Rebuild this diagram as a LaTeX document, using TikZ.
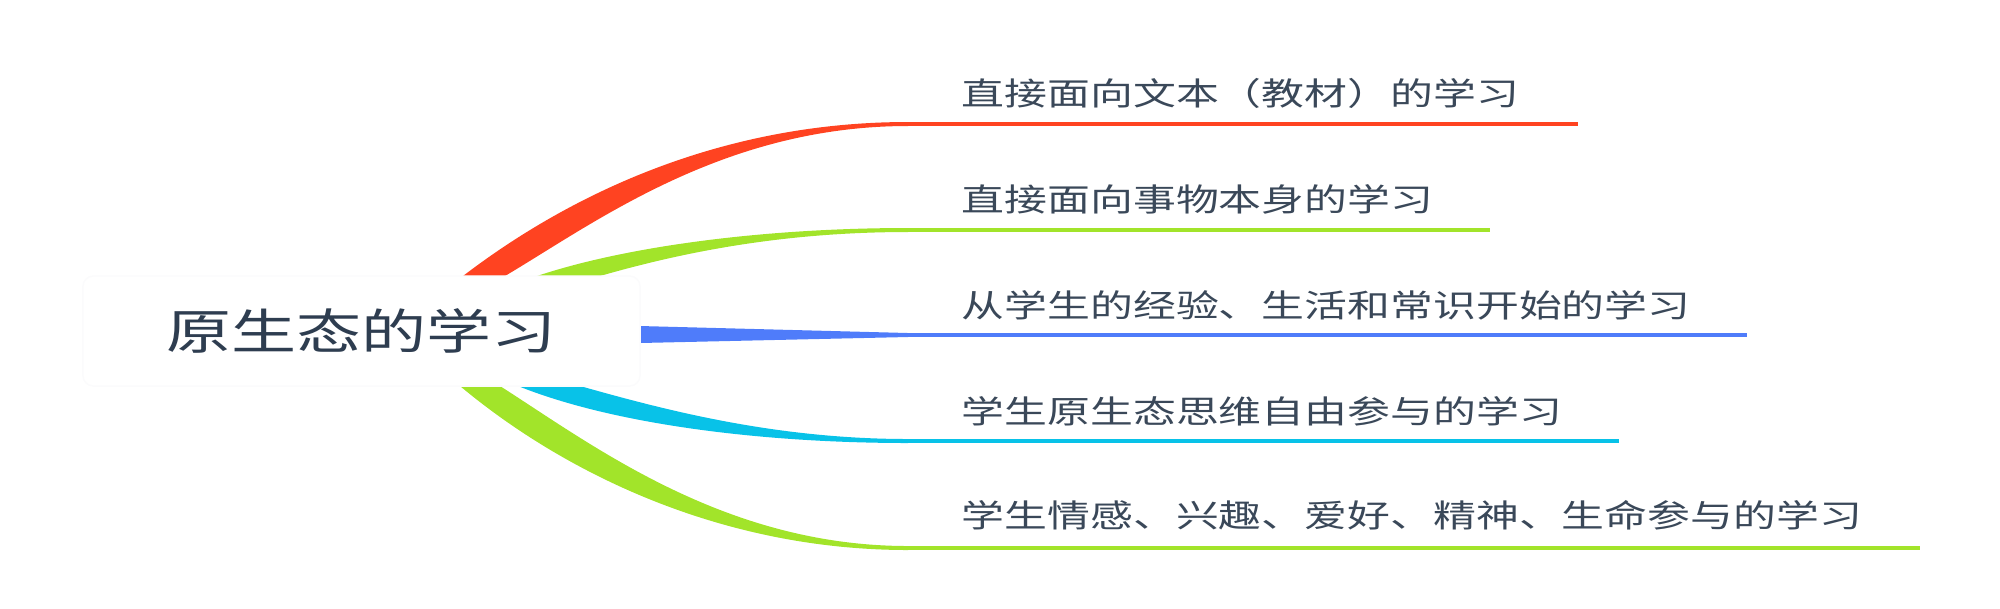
\documentclass[tikz,border=0pt]{standalone}
\usepackage{fontspec}
\newfontfamily\cjk[FakeStretch=1.35]{Noto Sans CJK SC}
\definecolor{tred}{HTML}{FF4321}
\definecolor{tgreen}{HTML}{A2E42A}
\definecolor{tblue}{HTML}{4F7CFA}
\definecolor{tcyan}{HTML}{08C2E8}
\definecolor{rootink}{HTML}{2E3D50}
\definecolor{leafink}{HTML}{3A4859}
\definecolor{boxgray}{HTML}{FBFBFC}

\begin{document}
\begin{tikzpicture}[
    x=0.01cm, y=-0.01cm,
    root/.style={draw=boxgray, fill=white, rounded corners=3pt, minimum width=5.57cm, minimum height=1.1cm, inner sep=0pt,
        font=\cjk\fontsize{13.7}{14}\selectfont, text=rootink},
    leaf/.style={anchor=west, inner sep=0pt, font=\cjk\fontsize{9.03}{10}\selectfont, text=leafink},
    uline/.style={line width=1pt}
]
\useasboundingbox (0,0) rectangle (2000,608);

% joints where the branches turn into underlines
\coordinate (j1) at (908,124);
\coordinate (j2) at (908,230);
\coordinate (j3) at (908,335);
\coordinate (j4) at (908,441);
\coordinate (j5) at (908,548);

% tapered branches
\fill[tred] (463,276) .. controls (565,198) and (716,122) .. (908,122)
    -- (908,126) .. controls (724,126) and (596,222) .. (505,276) -- cycle;
\fill[tgreen] (537,276) .. controls (630,245) and (770,228) .. (908,228)
    -- (908,232) .. controls (790,232) and (690,250) .. (600,276) -- cycle;
\fill[tblue] (640,326) -- (908,333) -- (908,337) -- (640,343) -- cycle;
\fill[tcyan] (518,386) .. controls (615,425) and (765,443) .. (908,443)
    -- (908,439) .. controls (775,439) and (665,410) .. (580,386) -- cycle;
\fill[tgreen] (460,386) .. controls (558,468) and (715,550) .. (908,550)
    -- (908,546) .. controls (725,546) and (594,446) .. (500,386) -- cycle;

\node[root] (core) at (361.5,331) {原生态的学习};

% underlines
\draw[uline, tred] (j1) -- (1578,124) coordinate (e1);
\draw[uline, tgreen] (j2) -- (1490,230) coordinate (e2);
\draw[uline, tblue] (j3) -- (1747,335) coordinate (e3);
\draw[uline, tcyan] (j4) -- (1619,441) coordinate (e4);
\draw[uline, tgreen] (j5) -- (1920,548) coordinate (e5);

\node[leaf] (t1) at (961,93) {直接面向文本（教材）的学习};
\node[leaf] (t2) at (961,199) {直接面向事物本身的学习};
\node[leaf] (t3) at (961,305) {从学生的经验、生活和常识开始的学习};
\node[leaf] (t4) at (961,411) {学生原生态思维自由参与的学习};
\node[leaf] (t5) at (961,515) {学生情感、兴趣、爱好、精神、生命参与的学习};
\end{tikzpicture}
\end{document}
